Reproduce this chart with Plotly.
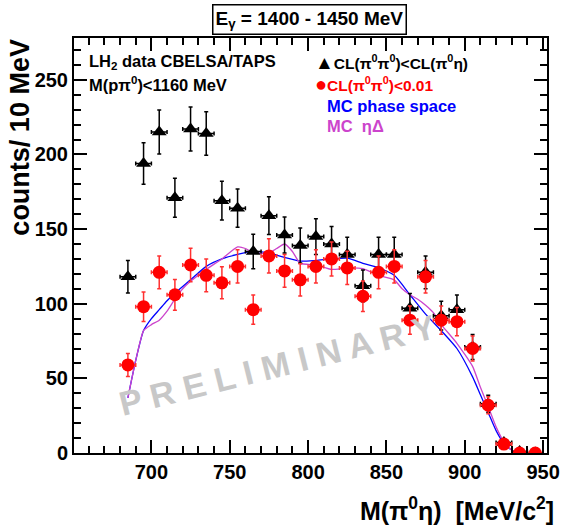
import plotly.graph_objects as go

# ---- data ----
bin_centers = [685, 695, 705, 715, 725, 735, 745, 755, 765, 775, 785, 795, 805, 815,
               825, 835, 845, 855, 865, 875, 885, 895, 905, 915, 925, 935, 945]
bin_half = [5] * 27

black_counts = [118, 194, 215, 171, 217, 214, 169, 164, 135, 159, 146, 139, 145, 140,
                133, 112, 133, 133, 97, 121, 92, 96, 71, 33, 7, 1, 0]
black_err = [10.9, 13.9, 14.7, 13.1, 14.7, 14.6, 13.0, 12.8, 11.6, 12.6, 12.1, 11.8, 12.0, 11.8,
             11.5, 10.6, 11.5, 11.5, 9.8, 11.0, 9.6, 9.8, 8.4, 5.7, 2.6, 1.0, 0]

red_counts = [59, 98, 121, 106, 126, 119, 114, 125, 96, 132, 122, 116, 125, 130,
              124, 105, 121, 125, 89, 118, 89, 88, 70, 32, 6, 0, 0]
red_err = [7.7, 9.9, 11.0, 10.3, 11.2, 10.9, 10.7, 11.2, 9.8, 11.5, 11.0, 10.8, 11.2, 11.4,
           11.1, 10.2, 11.0, 11.2, 9.4, 10.9, 9.4, 9.4, 8.4, 5.7, 2.4, 0, 0]

ps_x = [685, 690, 695, 700, 705, 710, 715, 725, 735, 745, 755, 765, 775, 785, 795, 805,
        815, 825, 835, 845, 855, 865, 875, 885, 895, 905, 910, 915, 920, 925, 930, 935]
ps_y = [37, 62, 82, 90, 96, 102, 107, 116, 125, 130, 133, 135, 134, 131, 128.5, 129,
        130, 130.5, 127, 124, 119, 106, 93, 82, 70, 51, 39, 27, 15, 6.5, 2, 0]

ed_x = [685, 690, 695, 700, 705, 710, 715, 720, 725, 735, 745, 755, 760, 765, 775, 780, 785,
        790, 795, 805, 815, 825, 835, 845, 855, 860, 865, 870, 875, 880, 885, 895, 905,
        910, 915, 920, 925, 930, 935]
ed_y = [37, 62, 82, 86, 89, 95, 103, 110, 115, 123, 130, 138, 137, 134, 134, 137, 140,
        135, 127, 126, 123, 124, 123.5, 119, 116, 110, 106, 103, 99, 94, 86, 73.5, 58,
        44, 31, 17.5, 7.5, 2, 0]

FONT = "Liberation Sans, Arial, Helvetica, sans-serif"
RED = "#ff0000"
BLUE = "#0000ff"
MAG = "#cc44cc"

fig = go.Figure()

fig.add_trace(go.Scatter(
    x=ps_x, y=ps_y, mode="lines", line=dict(color=BLUE, width=1.3, shape="spline", smoothing=0.6),
    hoverinfo="skip", showlegend=False))
fig.add_trace(go.Scatter(
    x=ed_x, y=ed_y, mode="lines", line=dict(color=MAG, width=1.3, shape="spline", smoothing=0.5),
    hoverinfo="skip", showlegend=False))

fig.add_trace(go.Scatter(
    x=bin_centers, y=black_counts, mode="markers",
    marker=dict(symbol="triangle-up", size=13, color="black"),
    error_x=dict(type="data", array=bin_half, color="black", thickness=1.5, width=2),
    error_y=dict(type="data", array=black_err, color="black", thickness=1.5, width=2),
    showlegend=False))
fig.add_trace(go.Scatter(
    x=bin_centers, y=red_counts, mode="markers",
    marker=dict(symbol="circle", size=13, color=RED),
    error_x=dict(type="data", array=bin_half, color="#ff3030", thickness=1.5, width=2),
    error_y=dict(type="data", array=red_err, color="#ff3030", thickness=1.5, width=2),
    showlegend=False))

axis_common = dict(
    showgrid=False, zeroline=False, showline=True, linecolor="black", linewidth=2,
    mirror="allticks", ticks="inside", ticklen=13, tickwidth=1.5, tickcolor="black",
    tickfont=dict(family=FONT, size=20, color="black", weight="bold"),
    minor=dict(ticks="inside", ticklen=7, tickwidth=1.5, tickcolor="black", showgrid=False),
)

fig.update_xaxes(range=[650.6, 952.5], tickvals=[700, 750, 800, 850, 900, 950],
                 minor_dtick=10, minor_tick0=650, **axis_common)
fig.update_yaxes(range=[0, 278], tickvals=[0, 50, 100, 150, 200, 250],
                 minor_dtick=10, minor_tick0=0, **axis_common)

ann = []
# title box
ann.append(dict(x=314, y=20, text="E<sub>γ</sub> = 1400 - 1450 MeV",
                showarrow=False, xanchor="center", yanchor="middle",
                font=dict(family=FONT, size=19, color="black", weight="bold"),
                bordercolor="black", borderwidth=1.5, borderpad=2, bgcolor="white"))
# axis titles
ann.append(dict(x=19, y=37, text="counts/ 10 MeV", textangle=-90, showarrow=False,
                xanchor="center", yanchor="top",
                font=dict(family=FONT, size=27, color="black", weight="bold")))
ann.append(dict(x=566, y=527, text="M(π<sup>0</sup>η)  [MeV/c<sup>2</sup>]", showarrow=False,
                xanchor="right", yanchor="bottom",
                font=dict(family=FONT, size=25, color="black", weight="bold")))
# labels inside plot
ann.append(dict(x=87, y=62, text="LH<sub>2</sub> data CBELSA/TAPS", showarrow=False,
                xanchor="left", yanchor="middle",
                font=dict(family=FONT, size=16.5, color="black", weight="bold")))
ann.append(dict(x=87, y=84, text="M(pπ<sup>0</sup>)&lt;1160 MeV", showarrow=False,
                xanchor="left", yanchor="middle",
                font=dict(family=FONT, size=16.5, color="black", weight="bold")))
ann.append(dict(x=318, y=62,
                text="<span style=\"font-size:19px\">▲</span>CL(π<sup>0</sup>π<sup>0</sup>)&lt;CL(π<sup>0</sup>η)",
                showarrow=False, xanchor="left", yanchor="middle",
                font=dict(family=FONT, size=15.5, color="black", weight="bold")))
ann.append(dict(x=318, y=84,
                text="<span style=\"font-size:20px\">●</span>CL(π<sup>0</sup>π<sup>0</sup>)&lt;0.01",
                showarrow=False, xanchor="left", yanchor="middle",
                font=dict(family=FONT, size=15.5, color=RED, weight="bold")))
ann.append(dict(x=330, y=106, text="MC phase space", showarrow=False,
                xanchor="left", yanchor="middle",
                font=dict(family=FONT, size=16.5, color=BLUE, weight="bold")))
ann.append(dict(x=330, y=126, text="MC  ηΔ", showarrow=False,
                xanchor="left", yanchor="middle",
                font=dict(family=FONT, size=16.5, color=MAG, weight="bold")))
# watermark
ann.append(dict(x=282, y=365, text="P R E L I M I N A R Y", textangle=-14, showarrow=False,
                xanchor="center", yanchor="middle",
                font=dict(family=FONT, size=34, color="#c8c8c8", weight="bold")))

W, H = 572, 528
L, R, T, B = 74, 15, 38, 75
pw, ph = W - L - R, H - T - B
for a in ann:
    a["xref"] = "paper"
    a["yref"] = "paper"
    a["x"] = (a["x"] - L) / pw
    a["y"] = (H - B - a["y"]) / ph

fig.update_layout(
    width=W, height=H, margin=dict(l=L, r=R, t=T, b=B),
    paper_bgcolor="white", plot_bgcolor="white",
    annotations=ann, showlegend=False,
)

fig.write_html("out.html", config={"displayModeBar": False},
               post_script="document.body.style.margin='0';document.body.style.padding='0';")
